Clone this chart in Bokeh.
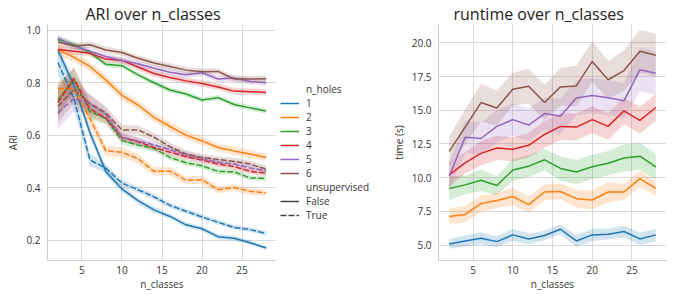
from bokeh.plotting import figure
from bokeh.layouts import row
from bokeh.models import Legend, LegendItem, FixedTicker, PrintfTickFormatter, Range1d
from bokeh.embed import file_html
from bokeh.resources import INLINE

n_classes = [2, 4, 6, 8, 10, 12, 14, 16, 18, 20, 22, 24, 26, 28]
n_holes = ["1", "2", "3", "4", "5", "6"]
colors = ["#1f77b4", "#ff7f0e", "#2ca02c", "#d62728", "#9467bd", "#8c564b"]

# ARI, unsupervised = False (solid)
ari_false_h1 = [0.925, 0.79, 0.61, 0.46, 0.395, 0.35, 0.315, 0.29, 0.258, 0.243, 0.213, 0.207, 0.19, 0.17]
ari_false_h2 = [0.925, 0.897, 0.862, 0.81, 0.752, 0.715, 0.668, 0.633, 0.60, 0.578, 0.553, 0.54, 0.528, 0.515]
ari_false_h3 = [0.965, 0.945, 0.915, 0.87, 0.865, 0.83, 0.80, 0.772, 0.757, 0.734, 0.743, 0.717, 0.704, 0.692]
ari_false_h4 = [0.927, 0.92, 0.912, 0.89, 0.885, 0.86, 0.835, 0.82, 0.807, 0.797, 0.784, 0.768, 0.766, 0.763]
ari_false_h5 = [0.97, 0.94, 0.92, 0.90, 0.885, 0.872, 0.855, 0.84, 0.83, 0.838, 0.814, 0.818, 0.805, 0.80]
ari_false_h6 = [0.955, 0.94, 0.945, 0.925, 0.915, 0.893, 0.875, 0.862, 0.848, 0.842, 0.843, 0.814, 0.814, 0.815]

# ARI, unsupervised = True (dashed)
ari_true_h1 = [0.877, 0.74, 0.505, 0.474, 0.417, 0.392, 0.365, 0.332, 0.31, 0.288, 0.268, 0.248, 0.24, 0.225]
ari_true_h2 = [0.777, 0.777, 0.663, 0.54, 0.535, 0.51, 0.462, 0.463, 0.428, 0.43, 0.392, 0.40, 0.386, 0.38]
ari_true_h3 = [0.735, 0.81, 0.69, 0.663, 0.58, 0.562, 0.55, 0.515, 0.495, 0.483, 0.462, 0.46, 0.437, 0.435]
ari_true_h4 = [0.725, 0.815, 0.70, 0.665, 0.59, 0.575, 0.553, 0.535, 0.518, 0.505, 0.49, 0.48, 0.462, 0.455]
ari_true_h5 = [0.685, 0.74, 0.72, 0.68, 0.592, 0.578, 0.563, 0.545, 0.525, 0.51, 0.497, 0.49, 0.475, 0.465]
ari_true_h6 = [0.71, 0.775, 0.72, 0.685, 0.62, 0.62, 0.592, 0.556, 0.528, 0.515, 0.507, 0.50, 0.49, 0.47]

# ARI confidence half-widths
ci_false_h1 = [0.02, 0.02, 0.02, 0.015, 0.013, 0.012, 0.012, 0.01, 0.01, 0.01, 0.01, 0.009, 0.008, 0.008]
ci_false_h2 = [0.02, 0.018, 0.018, 0.018, 0.018, 0.017, 0.017, 0.017, 0.016, 0.016, 0.015, 0.015, 0.015, 0.014]
ci_false_h3 = [0.012, 0.01, 0.01, 0.01, 0.01, 0.01, 0.01, 0.01, 0.01, 0.01, 0.01, 0.01, 0.01, 0.01]
ci_false_h4 = [0.014, 0.013, 0.012, 0.012, 0.012, 0.012, 0.012, 0.012, 0.012, 0.012, 0.012, 0.012, 0.012, 0.012]
ci_false_h5 = [0.014, 0.013, 0.012, 0.012, 0.012, 0.012, 0.012, 0.012, 0.012, 0.012, 0.012, 0.012, 0.012, 0.012]
ci_false_h6 = [0.014, 0.013, 0.012, 0.012, 0.012, 0.012, 0.012, 0.012, 0.012, 0.012, 0.012, 0.012, 0.012, 0.012]
ci_true_h1 = [0.045, 0.04, 0.025, 0.016, 0.013, 0.012, 0.011, 0.01, 0.01, 0.01, 0.009, 0.009, 0.009, 0.009]
ci_true_h2 = [0.03, 0.045, 0.03, 0.02, 0.02, 0.018, 0.016, 0.016, 0.015, 0.015, 0.014, 0.014, 0.013, 0.012]
ci_true_h3 = [0.06, 0.045, 0.03, 0.02, 0.015, 0.013, 0.012, 0.012, 0.011, 0.011, 0.011, 0.011, 0.01, 0.01]
ci_true_h4 = [0.06, 0.045, 0.03, 0.02, 0.016, 0.014, 0.013, 0.012, 0.012, 0.012, 0.011, 0.011, 0.011, 0.011]
ci_true_h5 = [0.06, 0.05, 0.035, 0.022, 0.017, 0.015, 0.014, 0.013, 0.013, 0.012, 0.012, 0.012, 0.012, 0.012]
ci_true_h6 = [0.065, 0.05, 0.035, 0.025, 0.02, 0.017, 0.016, 0.015, 0.014, 0.013, 0.013, 0.013, 0.013, 0.013]

# runtime (s)
time_h1 = [5.07, 5.3, 5.5, 5.25, 5.75, 5.45, 5.7, 6.17, 5.3, 5.75, 5.8, 6.0, 5.45, 5.75]
time_h2 = [7.12, 7.27, 8.07, 8.3, 8.6, 8.0, 8.93, 8.97, 8.44, 8.34, 8.93, 8.93, 9.93, 9.2]
time_h3 = [9.2, 9.46, 9.8, 9.41, 10.56, 10.85, 11.32, 10.68, 10.41, 10.8, 11.07, 11.46, 11.59, 10.8]
time_h4 = [10.2, 11.1, 11.8, 12.2, 12.1, 12.4, 13.2, 13.8, 13.75, 14.3, 13.8, 14.95, 14.25, 15.2]
time_h5 = [10.1, 13.0, 12.9, 13.8, 14.3, 13.9, 14.75, 14.55, 15.9, 16.1, 15.93, 15.7, 18.0, 17.75]
time_h6 = [11.95, 13.75, 15.57, 15.16, 16.56, 16.78, 15.57, 16.73, 16.8, 18.62, 17.26, 17.94, 19.37, 19.08]

time_ci_h1 = [0.35, 0.4, 0.45, 0.4, 0.45, 0.4, 0.35, 0.35, 0.45, 0.45, 0.4, 0.45, 0.45, 0.45]
time_ci_h2 = [0.6, 0.6, 0.6, 0.55, 0.65, 0.6, 0.6, 0.6, 0.65, 0.7, 0.75, 0.6, 0.6, 0.55]
time_ci_h3 = [0.9, 0.7, 0.8, 0.7, 0.8, 0.8, 0.8, 0.9, 0.9, 0.9, 0.9, 1.0, 1.0, 0.95]
time_ci_h4 = [0.9, 0.8, 0.9, 0.9, 0.9, 0.9, 1.0, 1.0, 1.0, 1.0, 1.0, 1.0, 1.0, 1.0]
time_ci_h5 = [1.0, 1.2, 1.2, 1.2, 1.2, 1.2, 1.2, 1.3, 1.3, 1.3, 1.3, 1.3, 1.6, 1.6]
time_ci_h6 = [1.1, 1.3, 1.4, 1.3, 1.2, 1.3, 1.3, 1.4, 1.5, 1.5, 1.4, 1.5, 1.6, 1.6]

x_ticks = [5, 10, 15, 20, 25]
ari_ticks = [0.2, 0.4, 0.6, 0.8, 1.0]
time_ticks = [5.0, 7.5, 10.0, 12.5, 15.0, 17.5, 20.0]

ari_false = [ari_false_h1, ari_false_h2, ari_false_h3, ari_false_h4, ari_false_h5, ari_false_h6]
ari_true = [ari_true_h1, ari_true_h2, ari_true_h3, ari_true_h4, ari_true_h5, ari_true_h6]
ci_false = [ci_false_h1, ci_false_h2, ci_false_h3, ci_false_h4, ci_false_h5, ci_false_h6]
ci_true = [ci_true_h1, ci_true_h2, ci_true_h3, ci_true_h4, ci_true_h5, ci_true_h6]
times = [time_h1, time_h2, time_h3, time_h4, time_h5, time_h6]
time_cis = [time_ci_h1, time_ci_h2, time_ci_h3, time_ci_h4, time_ci_h5, time_ci_h6]

FONT = "Open Sans"
GRID = "#d9d9d9"
TXT = "#333333"
H = 293
TOP = 22
BOTTOM = 33


def style(p, xlabel, ylabel, yticks, title_offset):
    p.title.text_font = FONT
    p.title.text_font_size = "16px"
    p.title.text_font_style = "normal"
    p.title.text_color = "#222222"
    p.title.align = "left"
    p.title.offset = title_offset
    p.title.standoff = 0
    p.outline_line_color = None
    for ax in (p.xaxis[0], p.yaxis[0]):
        ax.major_tick_line_color = None
        ax.minor_tick_line_color = None
        ax.major_tick_out = 0
        ax.major_tick_in = 0
        ax.minor_tick_out = 0
        ax.minor_tick_in = 0
        ax.axis_line_color = "#cccccc"
        ax.axis_line_width = 1
        ax.major_label_text_font = FONT
        ax.major_label_text_font_size = "10px"
        ax.major_label_text_color = TXT
        ax.axis_label_text_font = FONT
        ax.axis_label_text_font_size = "10px"
        ax.axis_label_text_font_style = "normal"
        ax.axis_label_text_color = TXT
    p.xaxis.axis_label = xlabel
    p.yaxis.axis_label = ylabel
    p.xaxis.ticker = FixedTicker(ticks=x_ticks)
    p.yaxis.ticker = FixedTicker(ticks=yticks)
    p.yaxis.formatter = PrintfTickFormatter(format="%.1f")
    p.xaxis.major_label_standoff = 5
    p.yaxis.major_label_standoff = 7
    p.xaxis.axis_label_standoff = 0
    p.yaxis.axis_label_standoff = 3
    p.xgrid.grid_line_color = GRID
    p.ygrid.grid_line_color = GRID
    p.xgrid.ticker = FixedTicker(ticks=x_ticks)
    p.ygrid.ticker = FixedTicker(ticks=yticks)


# ---------- left: ARI ----------
p1 = figure(width=276, height=H, output_backend="svg", toolbar_location=None,
            title="ARI over n_classes",
            x_range=Range1d(0.7, 29.3), y_range=Range1d(0.122, 1.022),
            min_border_left=47, min_border_right=0, min_border_top=TOP, min_border_bottom=BOTTOM)
style(p1, "n_classes", "ARI", ari_ticks, 38)

for k in range(6):
    lo = [v - c for v, c in zip(ari_false[k], ci_false[k])]
    hi = [v + c for v, c in zip(ari_false[k], ci_false[k])]
    p1.varea(x=n_classes, y1=lo, y2=hi, fill_color=colors[k], fill_alpha=0.2)
    lo = [v - c for v, c in zip(ari_true[k], ci_true[k])]
    hi = [v + c for v, c in zip(ari_true[k], ci_true[k])]
    p1.varea(x=n_classes, y1=lo, y2=hi, fill_color=colors[k], fill_alpha=0.2)
for k in range(6):
    p1.line(n_classes, ari_false[k], line_color=colors[k], line_width=1.5)
    p1.line(n_classes, ari_true[k], line_color=colors[k], line_width=1.5, line_dash="6 2")

# ---------- legend panel ----------
pl = figure(width=112, height=H, output_backend="svg", toolbar_location=None,
            x_range=Range1d(0, 1), y_range=Range1d(0, 1),
            min_border_left=0, min_border_right=0, min_border_top=TOP, min_border_bottom=BOTTOM)
pl.axis.visible = False
pl.grid.visible = False
pl.outline_line_color = None

off = [-10, -9]  # handle-only renderers, outside the visible range
blank = pl.line(off, off, line_alpha=0)
hole_handles = [pl.line(off, off, line_color=colors[k], line_width=1.5) for k in range(6)]
leg_false = pl.line(off, off, line_color="#444444", line_width=1.5)
leg_true = pl.line(off, off, line_color="#444444", line_width=1.5, line_dash="6 2")

items = [LegendItem(label="n_holes", renderers=[blank])]
for k in range(6):
    items.append(LegendItem(label=n_holes[k], renderers=[hole_handles[k]]))
items.append(LegendItem(label="unsupervised", renderers=[blank]))
items.append(LegendItem(label="False", renderers=[leg_false]))
items.append(LegendItem(label="True", renderers=[leg_true]))

legend = Legend(items=items, location=(4, 38), orientation="vertical",
                border_line_color=None, background_fill_alpha=0,
                label_text_font=FONT, label_text_font_size="10px", label_text_color=TXT,
                label_text_line_height=1.0,
                glyph_width=19, glyph_height=12, label_height=12, spacing=-1,
                label_standoff=7, padding=0, margin=0)
pl.add_layout(legend, "center")

# ---------- right: runtime ----------
p2 = figure(width=287, height=H, output_backend="svg", toolbar_location=None,
            title="runtime over n_classes",
            x_range=Range1d(0.65, 29.35), y_range=Range1d(3.85, 21.36),
            min_border_left=42, min_border_right=9, min_border_top=TOP, min_border_bottom=BOTTOM)
style(p2, "n_classes", "time (s)", time_ticks, 15)

for k in range(6):
    lo = [v - c for v, c in zip(times[k], time_cis[k])]
    hi = [v + c for v, c in zip(times[k], time_cis[k])]
    p2.varea(x=n_classes, y1=lo, y2=hi, fill_color=colors[k], fill_alpha=0.2)
for k in range(6):
    p2.line(n_classes, times[k], line_color=colors[k], line_width=1.5)

layout = row(p1, pl, p2)
open("out.html", "w").write(file_html(layout, INLINE))
